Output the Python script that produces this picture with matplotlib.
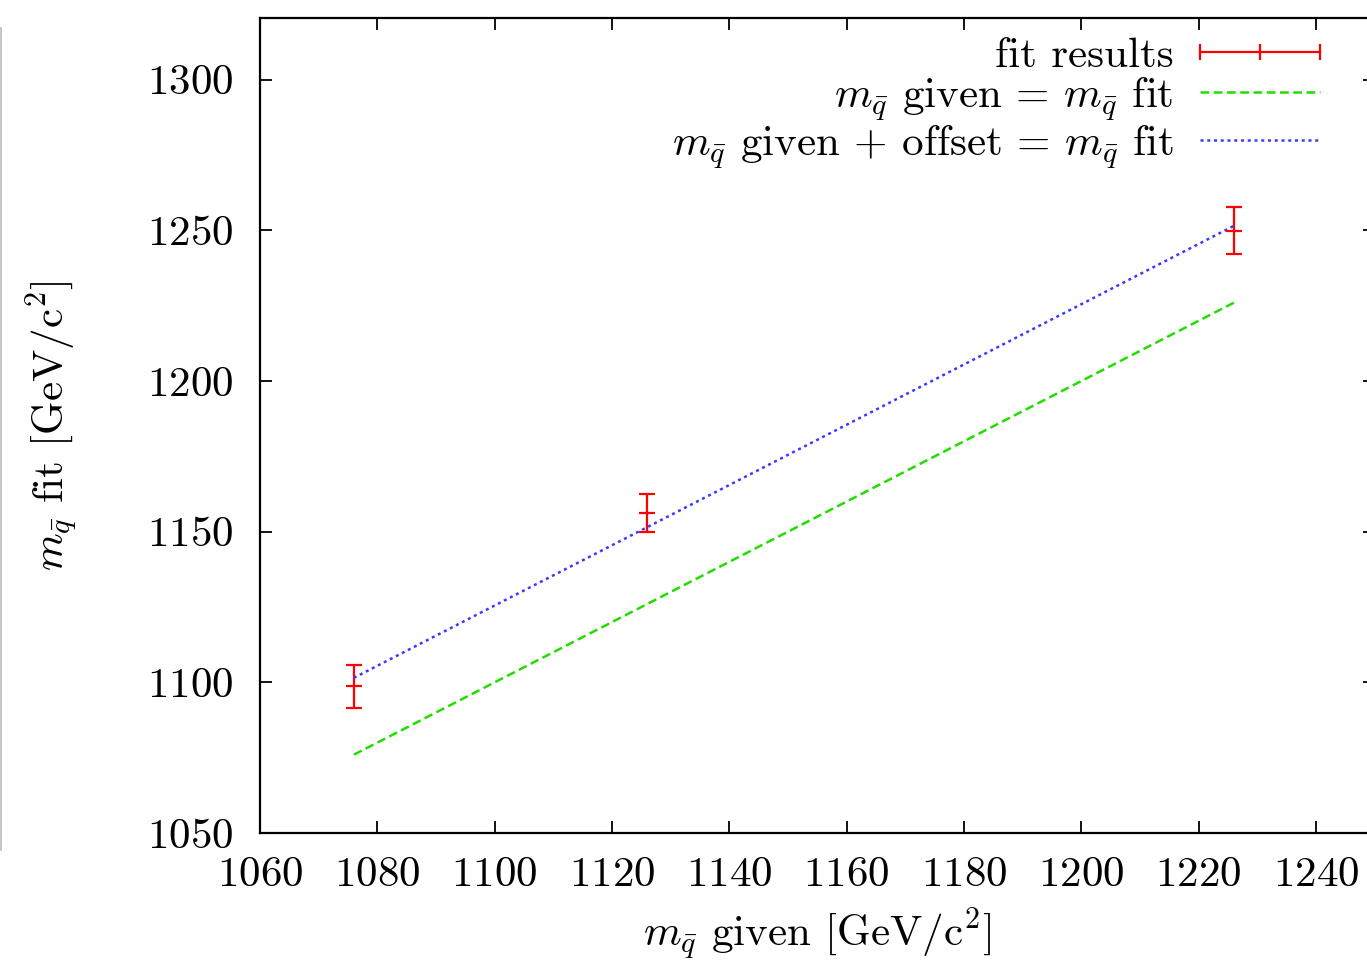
import numpy as np
import matplotlib.pyplot as plt
from matplotlib.lines import Line2D

plt.rcParams['font.family'] = 'serif'
plt.rcParams['font.serif'] = ['cmr10']
plt.rcParams['mathtext.fontset'] = 'cm'
plt.rcParams['axes.formatter.use_mathtext'] = True

# squark mass: generated value vs. fitted value
m_given = [1076, 1126, 1226]
m_fit = [1098.7, 1156.1, 1249.9]
m_err = [7.1, 6.3, 7.8]
offset = 25.5

line_x = np.array([1076, 1226])

fig = plt.figure(figsize=(13.67, 9.64), dpi=100)
ax = fig.add_axes([260 / 1367, 1 - 833 / 964, (1374.6 - 260) / 1367, (833 - 18) / 964])

ax.errorbar(m_given, m_fit, yerr=m_err, fmt='_', color='red', ms=12,
            elinewidth=1.6, capsize=6, capthick=1.6, mew=1.6)
ax.plot(line_x, line_x, color='#22dd00', lw=1.8, ls=(0, (3.5, 1.8)))
ax.plot(line_x, line_x + offset, color='#3a3aff', lw=1.8, ls=(0, (1.2, 1.5)))

ax.set_xlim(1060, 1250)
ax.set_ylim(1050, 1320.5)
ax.set_xticks(np.arange(1060, 1241, 20))
ax.set_yticks(np.arange(1050, 1301, 50))
ax.tick_params(direction='in', length=8.5, width=1.3, top=True, right=True,
               labelsize=31)
ax.tick_params(axis='y', pad=19)
ax.tick_params(axis='x', pad=17)
for s in ax.spines.values():
    s.set_linewidth(1.6)

ax.set_xlabel(r'$m_{\bar{q}}$ given [GeV/c$^2$]', fontsize=31, labelpad=9)
ax.set_ylabel(r'$m_{\bar{q}}$ fit [GeV/c$^2$]', fontsize=31, labelpad=48)

handles = [
    Line2D([], [], color='red', lw=1.6, marker='|', ms=12, mew=1.6),
    Line2D([], [], color='#22dd00', lw=1.8, ls=(0, (3.5, 1.8))),
    Line2D([], [], color='#3a3aff', lw=1.8, ls=(0, (1.2, 1.5))),
]
labels = ['fit results',
          r'$m_{\bar{q}}$ given = $m_{\bar{q}}$ fit',
          r'$m_{\bar{q}}$ given + offset = $m_{\bar{q}}$ fit']
fig.legend(handles, labels, loc='upper right', bbox_to_anchor=(1333 / 1367, 1 - 37 / 964),
           frameon=False, markerfirst=False, numpoints=3, fontsize=31,
           handlelength=3.4, handletextpad=0.3, labelspacing=0.0,
           borderpad=0, borderaxespad=0)

# thin grey edge on the left side
fig.add_artist(Line2D([0.0008, 0.0008], [1 - 28 / 964, 1 - 850 / 964],
                      transform=fig.transFigure, color='#bbbbbb', lw=1.2))

fig.savefig('out.png', dpi=100)
